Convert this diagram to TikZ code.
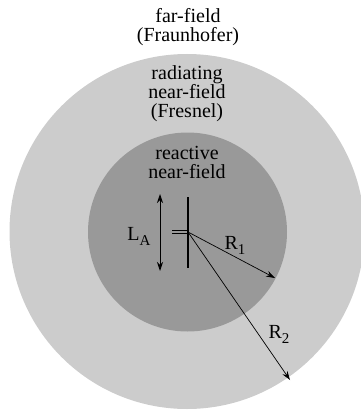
\documentclass[tikz,border=0pt]{standalone}
\usepackage{fontspec}
\setmainfont{Liberation Serif}
\newfontfamily\timesfont{Liberation Serif}
\usetikzlibrary{arrows.meta}
\definecolor{outerg}{gray}{0.80}
\definecolor{innerg}{gray}{0.60}
\tikzset{
  lbl/.style={font=\timesfont\fontsize{20}{19}\selectfont, align=center, inner sep=0pt},
  rarrow/.style={-{Stealth[length=9pt,width=6pt,inset=3pt]}, line width=0.7pt},
  larrow/.style={{Stealth[length=9pt,width=6pt,inset=3pt]}-{Stealth[length=9pt,width=6pt,inset=3pt]}, line width=0.9pt},
}
\newcommand{\subA}[1]{\raisebox{-5pt}{\timesfont\fontsize{15}{15}\selectfont #1}}
\begin{document}
\begin{tikzpicture}[x=1pt,y=-1pt]
\useasboundingbox (0,0) rectangle (361,412);
\begin{scope}
\clip (0,0) rectangle (361,412);
\fill[outerg] (187,231.5) circle[radius=177.5];
\end{scope}
\fill[innerg] (187.5,232) circle[radius=99.5];
% antenna
\coordinate (feed) at (188,232);
\draw[line width=2.4pt] (188,197) -- (188,268);
\coordinate (f1a) at (172,230);
\coordinate (f2a) at (172,233.5);
\draw[line width=0.8pt] (f1a) -- (188,230);
\draw[line width=0.8pt] (f2a) -- (188,233.5);
% L_A arrow
\coordinate (lt) at (160,194);
\coordinate (lb) at (160,271);
\draw[larrow] (lt) -- (lb);
\node[lbl] (LA) at (139,236) {L\subA{A}};
% radii
\coordinate (r1) at (275,278);
\coordinate (r2) at (290,380);
\draw[rarrow] (feed) -- (r1);
\draw[rarrow] (feed) -- (r2);
\node[lbl] (R1) at (235,245) {R\subA{1}};
\node[lbl] (R2) at (279,334) {R\subA{2}};
% labels
\node[lbl] (far) at (188,27) {far-field\\(Fraunhofer)};
\node[lbl] (rad) at (187,94) {radiating\\near-field\\(Fresnel)};
\node[lbl] (rea) at (187,162) {reactive\\near-field};
\end{tikzpicture}
\end{document}
